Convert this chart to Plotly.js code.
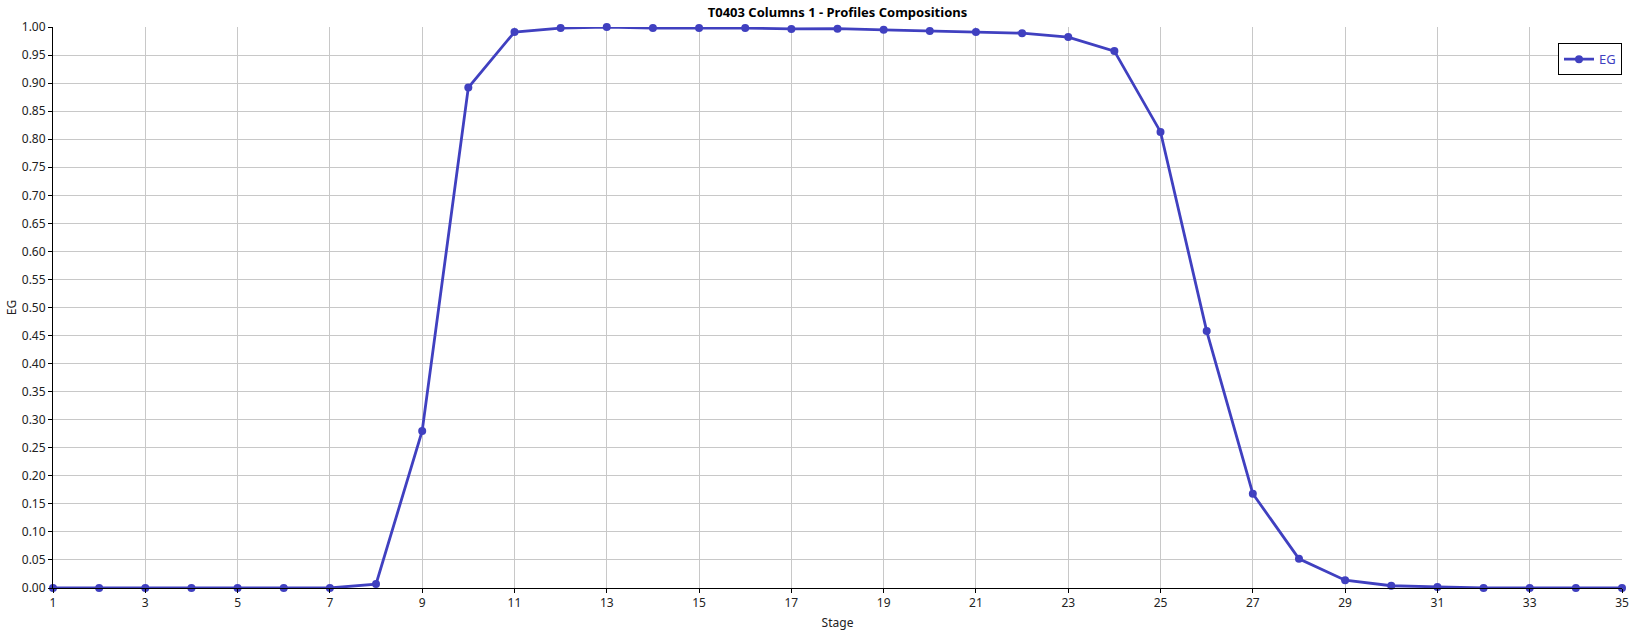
<!DOCTYPE html>
<html>
<head>
<meta charset="utf-8">
<script src="https://cdn.plot.ly/plotly-3.0.1.min.js"></script>
<style>
html,body{margin:0;padding:0;background:#fff;}
#chart{width:1643px;height:639px;}
</style>
</head>
<body>
<div id="chart"></div>
<script>
const stages = [1,2,3,4,5,6,7,8,9,10,11,12,13,14,15,16,17,18,19,20,21,22,23,24,25,26,27,28,29,30,31,32,33,34,35];
const egValues = [0,0,0,0,0,0,0,0.007,0.28,0.892,0.991,0.998,1.0,0.998,0.998,0.998,0.9965,0.997,0.995,0.993,0.991,0.989,0.982,0.957,0.813,0.458,0.168,0.052,0.014,0.004,0.002,0,0,0,0];
const seriesName = 'EG';
const chartTitle = 'T0403 Columns 1 - Profiles Compositions';
const xTitle = 'Stage';
const yTitle = 'EG';

const font = "'Noto Sans', 'Open Sans', sans-serif";
const lineColor = '#4040C0';

const trace = {
  x: stages,
  y: egValues,
  name: seriesName,
  type: 'scatter',
  mode: 'lines+markers',
  line: {color: lineColor, width: 2.8},
  marker: {color: lineColor, size: 8},
  cliponaxis: false
};

const layout = {
  width: 1643,
  height: 639,
  paper_bgcolor: '#fff',
  plot_bgcolor: '#fff',
  margin: {l: 53, r: 21, t: 27, b: 51},
  font: {family: font, size: 12, color: '#222'},
  title: {
    text: '<b>' + chartTitle + '</b>',
    font: {family: font, size: 13, color: '#000'},
    x: 0.5, xref: 'paper', xanchor: 'center',
    y: 0.981, yref: 'container', yanchor: 'middle'
  },
  showlegend: true,
  legend: {
    x: 1, xanchor: 'right', xref: 'paper',
    y: 0.971, yanchor: 'top',
    bordercolor: '#000', borderwidth: 1,
    bgcolor: '#fff',
    font: {family: font, size: 13, color: lineColor},
    itemwidth: 30,
    tracegroupgap: 0
  },
  xaxis: {
    range: [1, 35],
    tick0: 1, dtick: 2,
    showgrid: true, gridcolor: '#c8c8c8', gridwidth: 1,
    zeroline: false,
    showline: true, linecolor: '#000', linewidth: 1,
    ticks: 'outside', ticklen: 4, tickcolor: '#000',
    tickfont: {family: font, size: 12, color: '#222'},
    title: {text: xTitle, font: {family: font, size: 12, color: '#222'}, standoff: 8}
  },
  yaxis: {
    range: [0, 1],
    tick0: 0, dtick: 0.05,
    tickformat: '.2f',
    showgrid: true, gridcolor: '#c8c8c8', gridwidth: 1,
    zeroline: false,
    showline: true, linecolor: '#000', linewidth: 1,
    ticks: 'outside', ticklen: 4, tickcolor: '#000',
    tickfont: {family: font, size: 12, color: '#222'},
    title: {text: yTitle, font: {family: font, size: 12, color: '#222'}, standoff: 2}
  }
};

Plotly.newPlot('chart', [trace], layout, {displayModeBar: false, staticPlot: true});
</script>
</body>
</html>
